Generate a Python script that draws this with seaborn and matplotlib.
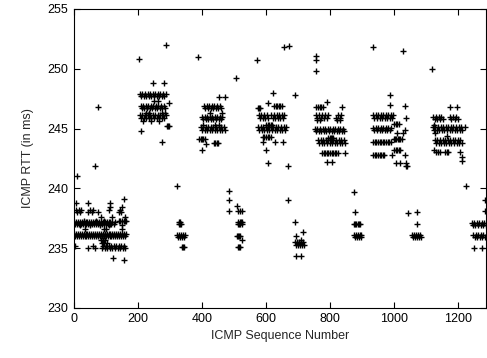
import pandas as pd
import matplotlib
matplotlib.use("Agg")
import matplotlib.pyplot as plt
import seaborn as sns

# RTT samples, grouped by burst: (rtt_ms, [sequence numbers])
burst_1 = [
    (246.8, [76]), (241.9, [66]), (241.0, [10]), (239.1, [157]),
    (238.8, [6, 45, 114]), (238.4, [112, 150]),
    (238.2, [7, 14, 22, 50, 60, 108, 145]),
    (238.0, [10, 18, 45, 55, 74, 140, 148]),
    (237.6, [85, 120, 160]),
    (237.3, [30, 70, 95, 140, 145, 150, 155, 160, 164]),
    (237.2, [0, 6, 12, 18, 24, 30, 36, 42, 48, 54, 60, 66, 72, 78, 84, 90, 96,
             102, 108, 114, 120, 128]),
    (237.0, [3, 9, 15, 21, 27, 33, 39, 45, 51, 57, 63, 69, 75, 81, 87, 93, 99,
             105, 111, 117, 124]),
    (236.9, [20, 50, 80, 110, 150]),
    (236.6, [35, 95, 100, 150]),
    (236.2, [0, 6, 12, 18, 24, 30, 36, 42, 48, 54, 60, 66, 72, 78, 84, 90, 96,
             102, 108, 114, 120, 126, 132, 138, 144, 150, 156, 162]),
    (236.0, [3, 9, 15, 21, 27, 33, 39, 45, 51, 57, 63, 69, 75, 81, 87, 93, 99,
             105, 111, 117, 123, 129, 135, 141, 147, 153, 159]),
    (235.7, [85, 92, 97]),
    (235.4, [88, 95, 102]),
    (235.2, [2, 58, 92, 100, 108, 116, 124, 132, 140, 148, 156]),
    (235.0, [45, 66, 88, 96, 104, 112, 120, 128, 136, 144, 152, 160]),
    (234.2, [121]), (234.0, [157]),
]
burst_2 = [
    (252.0, [288]), (250.8, [204]), (248.8, [247, 280]),
    (247.9, [206, 214, 222, 230, 238, 246, 254, 262, 270, 278, 286]),
    (247.7, [210, 218, 226, 234, 242, 250, 258, 266, 274, 282]),
    (247.3, [251, 262]), (247.1, [297]),
    (246.9, [208, 216, 224, 232, 240, 248, 256, 264, 272, 280]),
    (246.7, [212, 220, 228, 236, 244, 252, 260, 268, 276, 284]),
    (246.3, [225, 235, 275, 284]),
    (246.1, [206, 214, 222, 230, 238, 246, 254, 262, 270, 278, 286]),
    (245.9, [210, 218, 226, 234, 242, 250, 258, 266, 274, 282]),
    (245.6, [215, 240, 265]),
    (245.2, [290, 294, 298]),
    (244.8, [208]), (243.9, [276]),
]
burst_3 = [
    (240.2, [323]), (237.2, [328, 331]), (237.0, [327, 330, 333]),
    (236.1, [323, 329, 335, 341, 347]),
    (235.9, [326, 332, 338, 344]),
    (235.1, [338, 341, 343]),
]
burst_4 = [
    (251.0, [388]), (247.6, [453, 472]),
    (246.9, [407, 415, 423, 431, 439, 447, 455]),
    (246.7, [411, 419, 427, 435, 443, 451, 459]),
    (246.3, [425, 463]),
    (246.0, [400, 408, 416, 424, 432, 440, 448, 456, 464]),
    (245.8, [404, 412, 420, 428, 436, 444, 452, 460]),
    (245.3, [402, 440, 452]),
    (245.1, [396, 404, 412, 420, 428, 436, 444, 452, 460, 468]),
    (244.9, [400, 408, 416, 424, 432, 440, 448, 456, 464, 472]),
    (244.1, [392, 396, 400, 404, 408]),
    (243.8, [438, 442, 446, 450]),
    (243.7, [413]), (243.2, [401]),
]
burst_5 = [
    (249.2, [505]), (239.8, [486]), (239.0, [486]), (238.5, [508]),
    (238.1, [486, 512, 518, 524]),
    (237.2, [514, 518, 522, 526]), (237.0, [512, 516, 520, 524]),
    (236.0, [509, 512, 515, 519]), (235.7, [525]), (235.1, [512, 516, 520]),
]
burst_6 = [
    (251.9, [673]), (251.8, [657]), (250.7, [571]), (248.0, [621]), (247.8, [690]),
    (247.1, [607]), (246.9, [625, 630, 635, 640, 645, 650]), (246.7, [574, 578, 582]),
    (246.1, [578, 586, 594, 602, 617, 625, 633, 641, 649, 657]),
    (245.9, [582, 590, 598, 607, 621, 629, 637, 645, 653]),
    (245.3, [600, 605, 610, 615, 620]),
    (245.1, [575, 583, 591, 599, 607, 615, 623, 631, 639, 647, 655, 663]),
    (244.9, [579, 587, 595, 603, 611, 619, 627, 635, 643, 651, 659]),
    (244.3, [590, 595, 600, 605, 610, 615]),
    (243.9, [590, 628, 653]), (243.2, [600]), (242.1, [605]), (241.9, [670]),
    (239.0, [670]),
]
burst_7 = [
    (237.15, [691]), (236.35, [715]), (236.0, [693]), (235.7, [710]),
    (235.5, [692, 698, 704, 710, 716]),
    (235.3, [695, 701, 707, 713, 718]),
    (234.3, [694, 710]),
]
burst_8 = [
    (251.1, [756]), (250.7, [756]), (249.8, [756]), (247.2, [790]),
    (246.8, [758, 763, 768, 773, 778, 838]),
    (246.1, [756, 766, 776, 786, 795, 825, 835]),
    (245.9, [761, 771, 781, 791, 820, 830]),
    (245.7, [760, 770, 822, 832]),
    (245.0, [753, 761, 769, 777, 785, 793, 801, 809, 817, 825, 833, 841]),
    (244.8, [757, 765, 773, 781, 789, 797, 805, 813, 821, 829, 837, 843]),
    (244.2, [795, 799, 803, 807, 811]),
    (244.0, [763, 771, 779, 787, 795, 803, 811, 819, 827, 835, 843]),
    (243.8, [767, 775, 783, 791, 799, 807, 815, 823, 831, 839, 847]),
    (242.95, [775, 780, 785, 790, 795, 800, 805, 810, 815, 820, 825, 846]),
    (242.2, [790, 808]), (239.7, [876]),
]
burst_9 = [
    (238.0, [878]), (237.05, [875, 879, 883, 887, 891, 893]),
    (236.1, [875, 881, 887, 893, 898]),
    (235.9, [878, 884, 890, 896]),
]
burst_10 = [
    (251.8, [935]), (251.5, [1027]), (247.8, [988]), (247.0, [988]), (246.9, [1034]),
    (246.1, [935, 943, 951, 959, 967, 975, 983, 991, 997]),
    (245.9, [939, 947, 955, 963, 971, 979, 987, 995, 1037]),
    (245.4, [1000, 1005, 1010, 1015]),
    (245.05, [935, 943, 951, 959, 967, 975, 983, 991]),
    (244.85, [939, 947, 955, 963, 971, 979, 987, 1034]),
    (244.6, [1011, 1030]),
    (244.1, [1000, 1004, 1008, 1012, 1016, 1020, 1025]),
    (243.9, [935, 940, 945, 950, 955, 960, 965, 970, 975, 980, 985, 990]),
    (243.2, [1000, 1005, 1010, 1015, 1020]),
    (242.8, [935, 940, 945, 950, 955, 960, 965, 970, 995, 1034]),
    (242.1, [1008, 1018, 1037]), (241.9, [1037, 1042]),
]
burst_11 = [
    (238.0, [1072]), (237.9, [1043]), (237.05, [1071]),
    (236.1, [1057, 1063, 1069, 1075, 1081]),
    (235.9, [1060, 1066, 1072, 1078, 1084]),
]
burst_12 = [
    (250.0, [1120]), (246.8, [1175, 1196]),
    (246.0, [1122, 1132, 1140, 1148, 1175, 1185, 1195]),
    (245.8, [1128, 1136, 1144, 1154, 1180, 1190, 1200]),
    (245.3, [1125]),
    (245.1, [1122, 1130, 1138, 1146, 1154, 1162, 1170, 1178, 1186, 1194, 1202,
             1210, 1222]),
    (244.9, [1126, 1134, 1142, 1150, 1158, 1166, 1174, 1182, 1190, 1198, 1206,
             1212]),
    (244.6, [1130]), (244.4, [1165]),
    (244.0, [1128, 1136, 1144, 1152, 1160, 1168, 1176, 1184, 1192, 1200, 1208]),
    (243.8, [1132, 1140, 1148, 1156, 1164, 1172, 1180, 1188, 1196, 1204, 1212]),
    (243.2, [1125]),
    (243.0, [1133, 1138, 1143, 1160, 1165, 1170, 1206]),
    (242.6, [1212]), (242.3, [1212]), (240.2, [1224]),
]
burst_13 = [
    (239.0, [1284]), (238.1, [1284]),
    (237.1, [1243, 1251, 1259, 1267, 1275, 1283]),
    (236.9, [1247, 1255, 1263, 1271, 1279, 1287]),
    (236.1, [1248, 1256, 1264, 1272, 1280]),
    (235.9, [1252, 1260, 1268, 1276, 1284]),
    (235.0, [1250, 1276]),
]

bursts = [burst_1, burst_2, burst_3, burst_4, burst_5, burst_6, burst_7,
          burst_8, burst_9, burst_10, burst_11, burst_12, burst_13]

rows = []
for burst in bursts:
    for rtt, seqs in burst:
        for s in seqs:
            rows.append({"seq": s, "rtt": rtt})
df = pd.DataFrame(rows)

sns.set_style("ticks")
plt.rcParams["font.family"] = ["Liberation Sans", "DejaVu Sans"]

fig = plt.figure(figsize=(4.87, 3.58), dpi=100)
ax = fig.add_axes([0.152, 0.140, 0.846, 0.835])

sns.scatterplot(data=df, x="seq", y="rtt", marker="+", color="black",
                s=22, linewidth=1.0, ax=ax, legend=False)

ax.set_xlim(0, 1288)
ax.set_ylim(230, 255)
ax.set_xticks([0, 200, 400, 600, 800, 1000, 1200])
ax.set_yticks([230, 235, 240, 245, 250, 255])
ax.tick_params(direction="in", top=True, right=True, length=4, width=0.8,
               labelsize=9, colors="black", pad=4)
for sp in ax.spines.values():
    sp.set_linewidth(0.8)
    sp.set_color("black")
ax.set_xlabel("ICMP Sequence Number", fontsize=9, labelpad=3)
ax.set_ylabel("ICMP RTT (in ms)", fontsize=9, labelpad=10)

fig.savefig("out.png", dpi=100)
